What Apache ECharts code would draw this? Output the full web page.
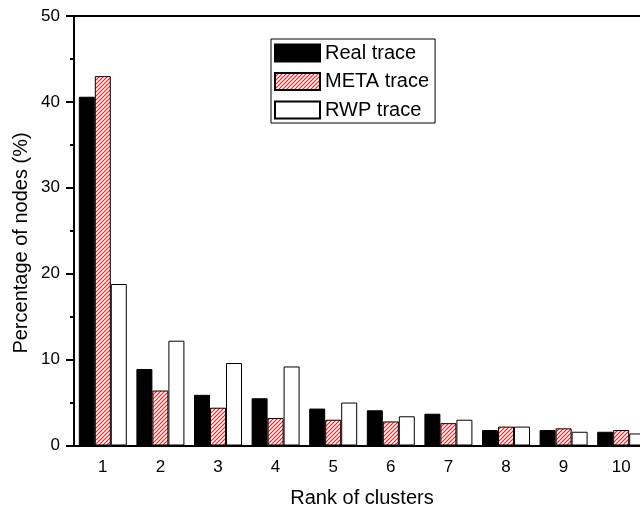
<!DOCTYPE html>
<html>
<head>
<meta charset="utf-8">
<script src="https://cdn.jsdelivr.net/npm/echarts@6/dist/echarts.min.js"></script>
<style>
  html, body { margin: 0; padding: 0; background: #fff; }
  #chart { width: 640px; height: 509px; }
</style>
</head>
<body>
<div id="chart"></div>
<script>
// Cluster ranks and the share of nodes (%) in each ranked cluster
const ranks = ['1', '2', '3', '4', '5', '6', '7', '8', '9', '10'];
const realTrace = [40.6, 8.9, 5.9, 5.5, 4.3, 4.1, 3.7, 1.8, 1.8, 1.6];
const metaTrace = [43.0, 6.4, 4.4, 3.2, 3.0, 2.8, 2.6, 2.2, 2.0, 1.8];
const rwpTrace  = [18.8, 12.2, 9.6, 9.2, 5.0, 3.4, 3.0, 2.2, 1.6, 1.4];
const seriesNames = ['Real trace', 'META trace', 'RWP trace'];

const FONT = 'Liberation Sans, Arial, Helvetica, sans-serif';

// Red diagonal hatch used for the META bars
function makeHatch() {
  const size = 4;
  const c = document.createElement('canvas');
  c.width = size; c.height = size;
  const g = c.getContext('2d');
  g.fillStyle = '#ffffff';
  g.fillRect(0, 0, size, size);
  g.strokeStyle = '#ff1a1a';
  g.lineWidth = 1.2;
  g.beginPath();
  g.moveTo(-1, size + 1); g.lineTo(size + 1, -1);
  g.moveTo(-1, 1); g.lineTo(1, -1);
  g.moveTo(size - 1, size + 1); g.lineTo(size + 1, size - 1);
  g.stroke();
  return c;
}
const hatch = { image: makeHatch(), repeat: 'repeat' };

const chart = echarts.init(document.getElementById('chart'), null, { renderer: 'canvas' });

const lineStyle = { color: '#000', width: 2 };

const option = {
  animation: false,
  backgroundColor: '#fff',
  // the plot frame runs on past the right edge of the canvas
  grid: { left: 74, top: 16, bottom: 63.5, width: 576, containLabel: false, outerBoundsMode: 'none' },
  legend: {
    data: seriesNames,
    orient: 'vertical',
    left: 271,
    top: 39,
    padding: [4, 6, 3, 3],
    itemWidth: 45,
    itemHeight: 17,
    itemGap: 8.5,
    borderColor: '#000',
    borderWidth: 1,
    icon: 'rect',
    textStyle: { fontFamily: FONT, fontSize: 20, color: '#000', lineHeight: 17 }
  },
  xAxis: [
    {
      type: 'category',
      data: ranks,
      position: 'bottom',
      name: 'Rank of clusters',
      nameLocation: 'middle',
      nameGap: 43,
      nameTextStyle: { fontFamily: FONT, fontSize: 20, color: '#000' },
      axisLine: { lineStyle },
      axisTick: { alignWithLabel: true, length: 8, lineStyle },
      axisLabel: { fontFamily: FONT, fontSize: 17, color: '#000', margin: 13 },
      splitLine: { show: false }
    },
    {
      type: 'category',
      data: ranks,
      position: 'bottom',
      axisLine: { show: false },
      axisTick: { length: 4, lineStyle },
      axisLabel: { show: false },
      splitLine: { show: false }
    },
    {
      type: 'category',
      data: ranks,
      position: 'top',
      axisLine: { lineStyle },
      axisTick: { alignWithLabel: true, inside: true, length: 2, lineStyle },
      axisLabel: { show: false },
      splitLine: { show: false }
    },
    {
      type: 'category',
      data: ranks,
      position: 'top',
      axisLine: { show: false },
      axisTick: { inside: true, length: 2, lineStyle },
      axisLabel: { show: false },
      splitLine: { show: false }
    }
  ],
  yAxis: {
    type: 'value',
    min: 0,
    max: 50,
    interval: 10,
    axisLine: { show: true, lineStyle },
    axisTick: { show: true, length: 8, lineStyle },
    minorTick: { show: true, splitNumber: 2, length: 4, lineStyle },
    axisLabel: { fontFamily: FONT, fontSize: 17, color: '#000', margin: 14 },
    splitLine: { show: false }
  },
  graphic: [
    {
      type: 'text',
      x: 21,
      y: 243,
      rotation: Math.PI / 2,
      style: {
        text: 'Percentage of nodes (%)',
        fontFamily: FONT,
        fontSize: 20,
        fill: '#000',
        textAlign: 'center',
        textVerticalAlign: 'middle'
      }
    }
  ],
  series: [
    {
      name: seriesNames[0],
      type: 'bar',
      data: realTrace,
      barWidth: 16,
      barGap: '0%',
      itemStyle: { color: '#000', borderColor: '#000', borderWidth: 1 }
    },
    {
      name: seriesNames[1],
      type: 'bar',
      data: metaTrace,
      barWidth: 16,
      barGap: '0%',
      itemStyle: { color: hatch, borderColor: '#000', borderWidth: 1 }
    },
    {
      name: seriesNames[2],
      type: 'bar',
      data: rwpTrace,
      barWidth: 16,
      barGap: '0%',
      itemStyle: { color: '#fff', borderColor: '#000', borderWidth: 1 }
    }
  ]
};

chart.setOption(option);
</script>
</body>
</html>
